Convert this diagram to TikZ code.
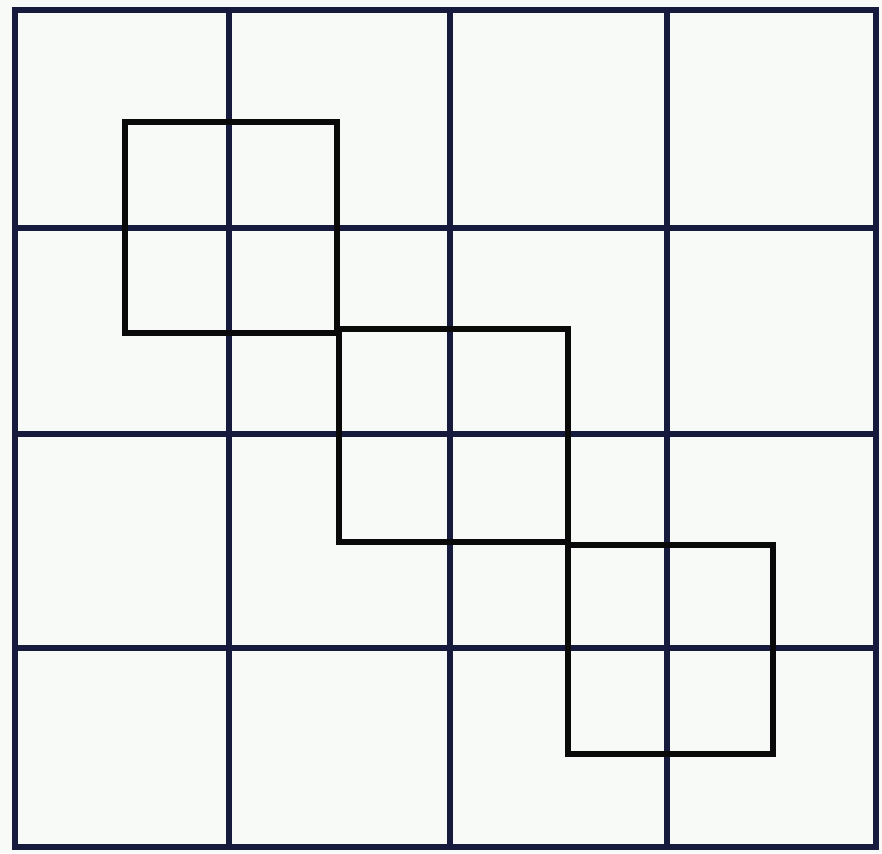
\documentclass[tikz,border=0pt]{standalone}
\usepackage{tikz}
\definecolor{grade}{HTML}{161B3E}
\definecolor{fundo}{HTML}{F8FAF7}
\definecolor{traco}{HTML}{0A0A0A}

\begin{document}
\begin{tikzpicture}[x=1pt, y=-1pt,
  linhagrade/.style={draw=grade, line width=6.5pt},
  quadrado/.style={draw=traco, line width=6pt, line join=miter}
]
\fill[fundo] (0,0) rectangle (882,853);
\useasboundingbox (0,0) rectangle (882,853);
% grade 4x4
\foreach \x in {229,450,667}
  \draw[linhagrade] (\x,10) -- (\x,847);
\foreach \y in {228,434,648}
  \draw[linhagrade] (15,\y) -- (876,\y);
\draw[linhagrade] (15,10) rectangle (876,847);
% tres quadrados sobrepostos
\draw[quadrado] (125,122) rectangle (337,333);
\draw[quadrado] (339,329) rectangle (568,542);
\draw[quadrado] (568,545) rectangle (773,754);
\end{tikzpicture}
\end{document}
